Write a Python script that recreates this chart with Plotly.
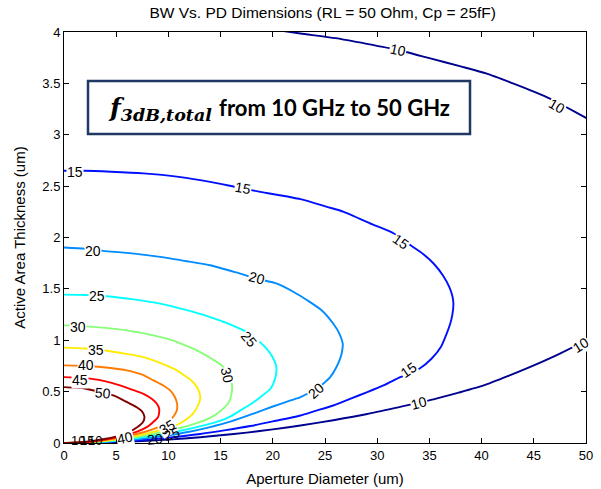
import plotly.graph_objects as go

# ---- contour lines (x: aperture diameter um, y: thickness um) ----
c50_x = [0, 2.0, 3.7, 4.73, 6.0, 7.0, 7.45, 7.7, 7.6, 6.97, 6.2, 5.37, 4.0, 2.81, 1.5, 0.5, 0]
c50_y = [0.544, 0.53, 0.49, 0.463, 0.40, 0.345, 0.31, 0.26, 0.21, 0.15, 0.105, 0.072, 0.041, 0.021, 0.0065, 0.001, 0]

c45_x = [0, 1.5, 2.5, 4.0, 5.37, 6.5, 7.61, 8.4, 8.89, 9.1, 9.12, 9.0, 8.5, 7.93, 7.0, 6.0, 4.7, 3.45, 2.0, 1.0, 0]
c45_y = [0.641, 0.636, 0.626, 0.60, 0.56, 0.52, 0.479, 0.43, 0.382, 0.34, 0.30, 0.25, 0.20, 0.154, 0.11, 0.078, 0.047, 0.025, 0.0085, 0.002, 0]

c40_x = [0, 1.5, 3.0, 4.5, 6.0, 7.5, 8.57, 9.5, 10.17, 10.6, 10.8, 10.85, 10.8, 10.5, 10.0, 9.21, 8.4, 7.61, 6.5, 5.37, 4.0, 2.5, 1.0, 0]
c40_y = [0.755, 0.752, 0.745, 0.73, 0.707, 0.665, 0.609, 0.56, 0.512, 0.45, 0.398, 0.35, 0.317, 0.26, 0.21, 0.165, 0.13, 0.105, 0.077, 0.052, 0.0284, 0.011, 0.002, 0]

c35_x = [0, 2, 3.93, 5.8, 7.61, 9.2, 10.5, 11.5, 12.2, 12.7, 12.95, 13.05, 12.9, 12.4, 11.8, 11.1, 10.2, 9.21, 8, 6.65, 5, 3.5, 2, 0]
c35_y = [0.928, 0.92, 0.90, 0.87, 0.836, 0.78, 0.723, 0.66, 0.609, 0.55, 0.495, 0.44, 0.382, 0.29, 0.235, 0.19, 0.153, 0.125, 0.094, 0.065, 0.037, 0.018, 0.006, 0]

c30_x = [0, 2.18, 4, 6.0, 8, 9.85, 11.5, 13.05, 14.3, 15.3, 15.9, 16.1, 16.05, 15.8, 15.3, 14.65, 13.9, 13.05, 11.8, 10.5, 9, 7.6, 6, 4, 2, 0]
c30_y = [1.145, 1.135, 1.12, 1.096, 1.06, 1.015, 0.955, 0.885, 0.81, 0.739, 0.65, 0.56, 0.48, 0.398, 0.34, 0.284, 0.24, 0.205, 0.165, 0.132, 0.097, 0.069, 0.043, 0.019, 0.005, 0]

c25_x = [0, 2, 4.1, 6.5, 9.21, 11.5, 14.0, 15.8, 17.2, 18.2, 19.2, 19.9, 20.3, 20.35, 20.2, 19.8, 18.8, 17.9, 16.9, 16.0, 15, 13.4, 11.5, 9.21, 7, 5, 3, 0]
c25_y = [1.444, 1.44, 1.428, 1.40, 1.357, 1.30, 1.226, 1.16, 1.096, 1.03, 0.94, 0.85, 0.76, 0.70, 0.62, 0.53, 0.446, 0.38, 0.317, 0.262, 0.217, 0.171, 0.126, 0.081, 0.047, 0.024, 0.0085, 0]

c20_x = [0, 2, 3.77, 6.5, 9.21, 12, 14.0, 16.5, 18.5, 20.4, 22.0, 23.3, 24.7, 25.8, 26.4, 26.7, 26.65, 26.5, 26.1, 25.5, 24.8, 24.1, 22.65, 21.7, 20, 18, 16, 14, 12, 10, 8, 6, 4, 2, 0]
c20_y = [1.902, 1.89, 1.87, 1.845, 1.811, 1.765, 1.73, 1.66, 1.60, 1.551, 1.47, 1.389, 1.29, 1.16, 1.06, 0.967, 0.90, 0.836, 0.74, 0.641, 0.575, 0.525, 0.446, 0.414, 0.355, 0.28, 0.21, 0.155, 0.11, 0.075, 0.047, 0.026, 0.0116, 0.003, 0]

c15_x = [0, 1.85, 4.5, 7.6, 11, 14.0, 16.5, 18.8, 22.65, 25.2, 26.8, 29.5, 31.6, 33.2, 34.4, 35.4, 36.3, 36.9, 37.2, 37.3, 37.2, 37.0, 36.6, 36.1, 35.2, 34, 32.2, 30.6, 29.05, 27.4, 25.8, 24, 22.65, 20, 17.85, 15.5, 13.05, 10, 8, 6, 4, 2, 0]
c15_y = [2.649, 2.649, 2.64, 2.624, 2.59, 2.542, 2.49, 2.444, 2.373, 2.298, 2.25, 2.13, 2.039, 1.925, 1.84, 1.747, 1.63, 1.519, 1.43, 1.357, 1.25, 1.162, 1.05, 0.934, 0.82, 0.72, 0.641, 0.56, 0.495, 0.43, 0.365, 0.31, 0.268, 0.21, 0.165, 0.125, 0.088, 0.052, 0.033, 0.0187, 0.0083, 0.002, 0]

c10_top_x = [21.0, 22.65, 26, 29, 32, 35, 38, 40.5, 43, 45, 46.6, 48, 50, 51]
c10_top_y = [4.01, 3.985, 3.94, 3.885, 3.825, 3.745, 3.665, 3.595, 3.50, 3.42, 3.35, 3.275, 3.165, 3.11]
c10_bot_x = [51, 50, 47.5, 45, 42.5, 40.2, 37.8, 35.4, 32.2, 29.05, 25.8, 22.65, 20, 17.5, 15, 13.05, 10, 7.5, 5, 2.5, 0]
c10_bot_y = [1.06, 1.0, 0.87, 0.755, 0.65, 0.56, 0.49, 0.425, 0.352, 0.282, 0.222, 0.17, 0.133, 0.101, 0.075, 0.056, 0.033, 0.0186, 0.0083, 0.002, 0]

contours = [
    ("10", c10_top_x, c10_top_y, "rgb(0,0,143)"),
    ("10", c10_bot_x, c10_bot_y, "rgb(0,0,143)"),
    ("15", c15_x, c15_y, "rgb(0,16,255)"),
    ("20", c20_x, c20_y, "rgb(0,140,255)"),
    ("25", c25_x, c25_y, "rgb(0,255,255)"),
    ("30", c30_x, c30_y, "rgb(135,255,120)"),
    ("35", c35_x, c35_y, "rgb(255,235,0)"),
    ("40", c40_x, c40_y, "rgb(255,123,0)"),
    ("45", c45_x, c45_y, "rgb(255,0,0)"),
    ("50", c50_x, c50_y, "rgb(128,0,0)"),
]

# contour labels: text, x, y, angle
label_text = ["10", "10", "10", "10", "15", "15", "15", "15", "20", "20", "20", "25", "25",
              "30", "30", "35", "35", "40", "40", "45", "50", "25", "20"]
label_x = [32.0, 47.2, 34.0, 49.5, 1.1, 17.1, 32.3, 33.0, 2.8, 18.5, 24.1, 3.2, 17.7,
           1.35, 15.6, 3.1, 9.9, 2.1, 5.8, 1.5, 3.7, 10.3, 8.7]
label_y = [3.825, 3.28, 0.39, 0.95, 2.64, 2.48, 1.957, 0.707, 1.87, 1.61, 0.51, 1.43, 1.01,
           1.125, 0.66, 0.91, 0.16, 0.76, 0.05, 0.615, 0.49, 0.085, 0.035]
label_angle = [12, 30, -15, -32, 0, 10, 35, -35, 0, 15, -42, 0, 50,
               0, 78, 0, -30, 0, -12, 0, 5, -20, -5]
label_bg = [True] * 21 + [False, False]

fig = go.Figure()
for name, xs, ys, col in contours:
    fig.add_trace(go.Scatter(x=xs, y=ys, mode="lines", name=name,
                             line=dict(color=col, width=1.9, shape="spline", smoothing=0.6),
                             hoverinfo="skip", showlegend=False))

for t, x, y, a, bg in zip(label_text, label_x, label_y, label_angle, label_bg):
    fig.add_annotation(x=x, y=y, xref="x", yref="y", text=t, showarrow=False,
                       textangle=a, font=dict(family="Liberation Sans, Arial", size=14, color="black"),
                       bgcolor="white" if bg else "rgba(0,0,0,0)", borderpad=0)

# cluster of overlapping labels near origin
for t, x in [("10", 1.3), ("15", 2.2), ("10", 3.0)]:
    fig.add_annotation(x=x, y=0.025, xref="x", yref="y", text=t, showarrow=False,
                       font=dict(family="Liberation Sans, Arial", size=13, color="black"))

# text box
fig.add_shape(type="rect", xref="paper", yref="paper",
              x0=(88 - 64) / 522, x1=(470 - 64) / 522,
              y0=(443 - 134) / 411, y1=(443 - 81) / 411,
              line=dict(color="rgb(31,56,100)", width=2.5), fillcolor="white", layer="above")
fig.add_annotation(xref="paper", yref="paper", x=(106 - 64) / 522, y=(443 - 109) / 411,
                   xanchor="left", yanchor="middle", showarrow=False,
                   text="<b><i>f</i></b><sub><b><i>3dB,total</i></b></sub>",
                   font=dict(family="DejaVu Serif", size=25, color="black"))
fig.add_annotation(xref="paper", yref="paper", x=(217 - 64) / 522, y=(443 - 107) / 411,
                   xanchor="left", yanchor="middle", showarrow=False,
                   text="<b>from 10 GHz to 50 GHz</b>",
                   font=dict(family="Lato", size=22, color="black"))

tick_font = dict(family="Liberation Sans, Arial", size=13, color="black")
label_font = dict(family="Liberation Sans, Arial", size=15, color="black")
fig.update_layout(
    width=601, height=489,
    margin=dict(l=64, r=15, t=32, b=46),
    paper_bgcolor="white", plot_bgcolor="white",
    title=dict(text="BW Vs. PD Dimensions (RL = 50 Ohm, Cp = 25fF)", x=0.537, xanchor="center",
               y=0.975, yanchor="middle", font=dict(family="Liberation Sans, Arial", size=15.5, color="black")),
    xaxis=dict(range=[0, 50], tickvals=[0, 5, 10, 15, 20, 25, 30, 35, 40, 45, 50], automargin=False,
               ticks="inside", ticklen=5, tickcolor="black", showline=True, linecolor="black",
               linewidth=1, mirror="ticks", showgrid=False, zeroline=False, tickfont=tick_font,
               title=dict(text="Aperture Diameter (um)", font=label_font, standoff=11)),
    yaxis=dict(range=[0, 4], tickvals=[0, 0.5, 1, 1.5, 2, 2.5, 3, 3.5, 4], automargin=False,
               ticktext=["0", "0.5", "1", "1.5", "2", "2.5", "3", "3.5", "4"],
               ticks="inside", ticklen=5, tickcolor="black", showline=True, linecolor="black",
               linewidth=1, mirror="ticks", showgrid=False, zeroline=False, tickfont=tick_font,
               title=dict(text="Active Area Thickness (um)", font=label_font, standoff=13)),
)

fig.write_html("out.html")
